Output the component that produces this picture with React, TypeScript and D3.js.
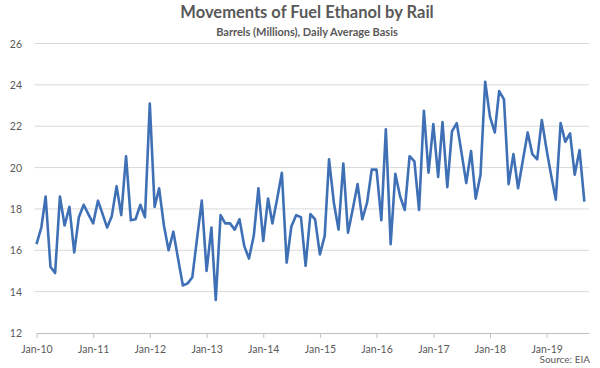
import * as d3 from "d3";
import { useRef, useEffect } from "react";

const width = 600;
const height = 368;
const margin = { top: 43.5, right: 11, bottom: 35, left: 36.5 };

const title = "Movements of Fuel Ethanol by Rail";
const subtitle = "Barrels (Millions), Daily Average Basis";
const source = "Source: EIA";

// monthly, Jan-10 .. Sep-19
const startMonth = new Date(2010, 0, 1);
const railBarrels = [
  16.3, 17.1, 18.6, 15.2, 14.9, 18.6, 17.2, 18.1, 15.9, 17.6, 18.2, 17.75,
  17.3, 18.4, 17.8, 17.1, 17.65, 19.1, 17.7, 20.55, 17.45, 17.5, 18.2, 17.6,
  23.1, 18.1, 19.0, 17.2, 16.0, 16.9, 15.6, 14.3, 14.4, 14.7, 16.6, 18.4,
  15.0, 17.1, 13.6, 17.7, 17.3, 17.3, 17.0, 17.5, 16.2, 15.6, 16.7, 19.0,
  16.45, 18.5, 17.3, 18.5, 19.75, 15.4, 17.15, 17.7, 17.6, 15.25, 17.75, 17.5,
  15.8, 16.7, 20.4, 18.3, 17.0, 20.2, 16.85, 18.0, 19.2, 17.5, 18.3, 19.9,
  19.9, 17.45, 21.85, 16.3, 19.7, 18.6, 17.95, 20.55, 20.3, 17.95, 22.75, 19.75,
  22.1, 19.55, 22.2, 19.05, 21.75, 22.15, 20.75, 19.25, 20.8, 18.5, 19.65, 24.15,
  22.45, 21.7, 23.7, 23.3, 19.2, 20.65, 19.0, 20.35, 21.7, 20.65, 20.4, 22.3,
  20.85, 19.55, 18.45, 22.15, 21.25, 21.65, 19.65, 20.85, 18.35,
];
const yTicks = [12, 14, 16, 18, 20, 22, 24, 26];

const font = "Lato, 'Open Sans', sans-serif";
const textColor = "#595959";
const lineColor = "#3f70b6";

export default function App() {
  const xAxisRef = useRef<SVGGElement>(null);

  const data = railBarrels.map((v, i) => ({
    date: d3.timeMonth.offset(startMonth, i),
    value: v,
  }));

  const xScale = d3
    .scaleTime()
    .domain([startMonth, d3.timeMonth.offset(startMonth, railBarrels.length)])
    .range([margin.left, width - margin.right]);
  const yScale = d3
    .scaleLinear()
    .domain([12, 26])
    .range([height - margin.bottom, margin.top]);

  const line = d3
    .line<{ date: Date; value: number }>()
    .x((d) => xScale(d.date))
    .y((d) => yScale(d.value));

  useEffect(() => {
    if (!xAxisRef.current) return;
    const g = d3.select(xAxisRef.current);
    g.call(
      d3
        .axisBottom(xScale)
        .ticks(d3.timeYear.every(1))
        .tickFormat((d) => d3.timeFormat("%b-%y")(d as Date))
        .tickSize(5)
        .tickSizeOuter(0)
    );
    g.select(".domain").attr("stroke", "#bfbfbf");
    g.selectAll(".tick line").attr("stroke", "#bfbfbf");
    g.selectAll(".tick text")
      .attr("fill", textColor)
      .attr("dy", "1.1em")
      .style("font-family", font)
      .style("font-size", "10.5px");
  }, []);

  return (
    <svg
      width={width}
      height={height}
      style={{ position: "absolute", left: 0, top: 0, background: "#fff" }}
    >
      <text
        x={307}
        y={18}
        textAnchor="middle"
        fontFamily={font}
        fontWeight="bold"
        fontSize={16.5}
        fill={textColor}
      >
        {title}
      </text>
      <text
        x={307}
        y={36}
        textAnchor="middle"
        fontFamily={font}
        fontWeight="bold"
        fontSize={11}
        fill={textColor}
      >
        {subtitle}
      </text>

      {yTicks.map((t) => (
        <g key={t}>
          {t > 12 && (
            <line
              x1={margin.left - 2}
              x2={width - margin.right}
              y1={yScale(t)}
              y2={yScale(t)}
              stroke="#d9d9d9"
              strokeWidth={1}
            />
          )}
          <text
            x={22}
            y={yScale(t) + 4}
            textAnchor="end"
            fontFamily={font}
            fontSize={10.5}
            fill={textColor}
          >
            {t}
          </text>
        </g>
      ))}

      <path
        d={line(data) ?? ""}
        fill="none"
        stroke={lineColor}
        strokeWidth={2.6}
        strokeLinejoin="round"
      />

      <g ref={xAxisRef} transform={`translate(0,${yScale(12)})`} />

      <text
        x={width - margin.right + 1}
        y={363}
        textAnchor="end"
        fontFamily={font}
        fontSize={10}
        fill={textColor}
      >
        {source}
      </text>
    </svg>
  );
}
